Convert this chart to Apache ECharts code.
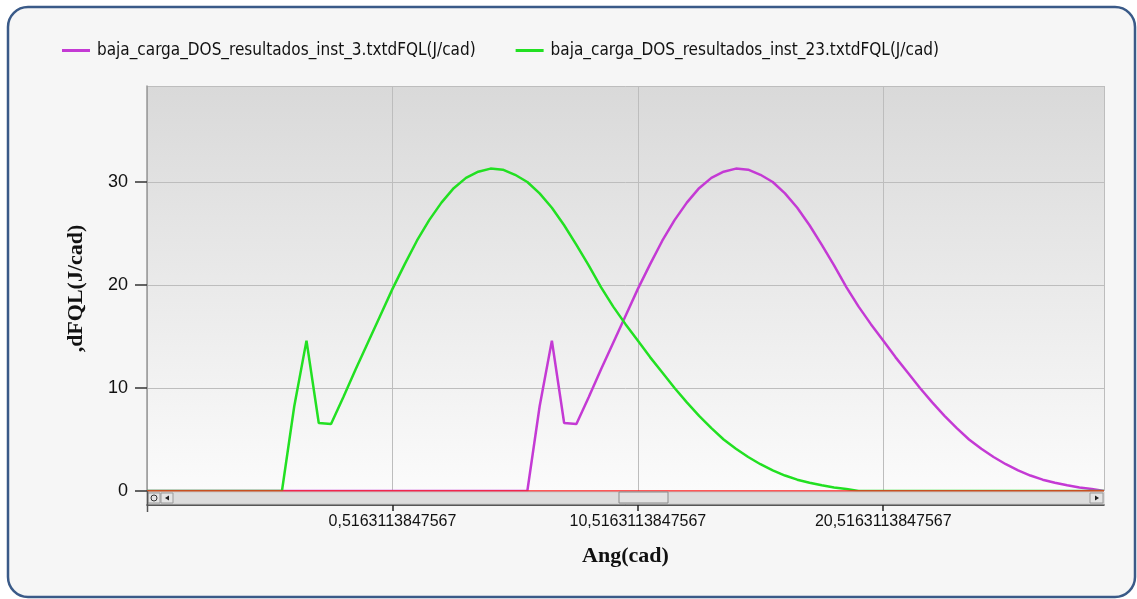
<!DOCTYPE html>
<html>
<head>
<meta charset="utf-8">
<script src="https://cdn.jsdelivr.net/npm/echarts@6/dist/echarts.min.js"></script>
<style>html,body{margin:0;padding:0;background:#fff;}#c{width:1137px;height:599px;}</style>
</head>
<body>
<div id="c"></div>
<script>
// ---- data ----
const seriesNames = ['baja_carga_DOS_resultados_inst_3.txtdFQL(J/cad)', 'baja_carga_DOS_resultados_inst_23.txtdFQL(J/cad)'];
const angleMin = -9.4836886152433;
const angleMax = 29.5163113847567;
const angleStep = 10;
const yTicks = [0, 10, 20, 30];
const yMax = 39.32;

const angleInst3 = [-9.484, 6.016, 6.516, 7.016, 7.516, 8.016, 8.516, 9.016, 9.516, 10.016, 10.516, 11.016, 11.516, 12.016, 12.516, 13.016, 13.516, 14.016, 14.516, 15.016, 15.516, 16.016, 16.516, 17.016, 17.516, 18.016, 18.516, 19.016, 19.516, 20.016, 20.516, 21.016, 21.516, 22.016, 22.516, 23.016, 23.516, 24.016, 24.516, 25.016, 25.516, 26.016, 26.516, 27.016, 27.516, 28.016, 28.516, 29.016, 29.516];
const dfqlInst3 = [0, 0, 8.2, 14.6, 6.6, 6.5, 9.1, 11.8, 14.4, 17.0, 19.6, 22.0, 24.3, 26.3, 28.0, 29.4, 30.4, 31.0, 31.3, 31.2, 30.7, 30.0, 28.9, 27.5, 25.8, 23.9, 21.9, 19.8, 17.9, 16.2, 14.6, 13.0, 11.5, 10.0, 8.6, 7.3, 6.1, 5.0, 4.1, 3.3, 2.6, 2.0, 1.5, 1.1, 0.8, 0.55, 0.35, 0.2, 0];

const angleInst23 = [-9.484, -3.984, -3.484, -2.984, -2.484, -1.984, -1.484, -0.984, -0.484, 0.016, 0.516, 1.016, 1.516, 2.016, 2.516, 3.016, 3.516, 4.016, 4.516, 5.016, 5.516, 6.016, 6.516, 7.016, 7.516, 8.016, 8.516, 9.016, 9.516, 10.016, 10.516, 11.016, 11.516, 12.016, 12.516, 13.016, 13.516, 14.016, 14.516, 15.016, 15.516, 16.016, 16.516, 17.016, 17.516, 18.016, 18.516, 19.016, 19.516, 29.516];
const dfqlInst23 = [0, 0, 8.2, 14.6, 6.6, 6.5, 9.1, 11.8, 14.4, 17.0, 19.6, 22.0, 24.3, 26.3, 28.0, 29.4, 30.4, 31.0, 31.3, 31.2, 30.7, 30.0, 28.9, 27.5, 25.8, 23.9, 21.9, 19.8, 17.9, 16.2, 14.6, 13.0, 11.5, 10.0, 8.6, 7.3, 6.1, 5.0, 4.1, 3.3, 2.6, 2.0, 1.5, 1.1, 0.8, 0.55, 0.35, 0.2, 0, 0];

const zip = (a, b) => a.map((v, i) => [v, b[i]]);

// ---- layout ----
const G = {left: 147, top: 86, width: 957, height: 405};
const gBottom = G.top + G.height;  // 491
const gRight = G.left + G.width;   // 1104

const chart = echarts.init(document.getElementById('c'), null, {renderer: 'canvas'});

const sbY = gBottom + 1, sbH = 12;
const graphics = [
  {type: 'rect', z: -10, shape: {x: 8, y: 7, width: 1127, height: 590, r: 20},
   style: {fill: '#f6f6f6', stroke: '#3a5a88', lineWidth: 2.5}},
  // scrollbar
  {type: 'rect', z: 10, shape: {x: G.left, y: sbY, width: G.width, height: sbH},
   style: {fill: '#dcdcdc', stroke: '#c8c8c8', lineWidth: 1}},
  {type: 'rect', z: 11, shape: {x: G.left + 1, y: sbY + 1, width: 12, height: sbH - 2},
   style: {fill: '#e4e4e4', stroke: '#9a9a9a', lineWidth: 1}},
  {type: 'circle', z: 12, shape: {cx: G.left + 7, cy: sbY + 6, r: 3},
   style: {fill: 'none', stroke: '#333', lineWidth: 1}},
  {type: 'rect', z: 11, shape: {x: G.left + 14, y: sbY + 1, width: 12, height: sbH - 2},
   style: {fill: '#e4e4e4', stroke: '#9a9a9a', lineWidth: 1}},
  {type: 'polygon', z: 12, shape: {points: [[G.left + 18, sbY + 6], [G.left + 22, sbY + 3.5], [G.left + 22, sbY + 8.5]]},
   style: {fill: '#222'}},
  {type: 'rect', z: 11, shape: {x: gRight - 14, y: sbY + 1, width: 13, height: sbH - 2},
   style: {fill: '#e4e4e4', stroke: '#9a9a9a', lineWidth: 1}},
  {type: 'polygon', z: 12, shape: {points: [[gRight - 5, sbY + 6], [gRight - 9, sbY + 3.5], [gRight - 9, sbY + 8.5]]},
   style: {fill: '#222'}},
  {type: 'rect', z: 11, shape: {x: 619, y: sbY, width: 49, height: sbH - 1},
   style: {fill: '#e2e2e2', stroke: '#8a8a8a', lineWidth: 1}},
  // y axis line extension below plot
  {type: 'line', z: 12, shape: {x1: G.left + 0.5, y1: gBottom, x2: G.left + 0.5, y2: gBottom + 21},
   style: {stroke: '#555', lineWidth: 1.5}}
];

const option = {
  backgroundColor: '#ffffff',
  animation: false,
  color: ['#c43ad4', '#22e022'],
  legend: {
    left: 57, top: 37,
    itemWidth: 28, itemHeight: 3, itemGap: 40,
    icon: 'rect',
    textStyle: {fontFamily: 'DejaVu Sans Condensed', fontSize: 17, color: '#111', padding: [0, 0, 0, 2]},
    data: seriesNames
  },
  grid: {
    left: G.left, top: G.top, width: G.width, height: G.height,
    show: true, borderWidth: 0,
    backgroundColor: {type: 'linear', x: 0, y: 0, x2: 0, y2: 1,
      colorStops: [{offset: 0, color: '#d9d9d9'}, {offset: 1, color: '#fbfbfb'}]}
  },
  xAxis: {
    type: 'value', min: angleMin, max: angleMax, interval: angleStep,
    offset: 14,
    name: 'Ang(cad)', nameLocation: 'middle', nameGap: 40,
    nameTextStyle: {fontFamily: 'Liberation Serif', fontWeight: 'bold', fontSize: 22, color: '#111'},
    axisLine: {show: true, onZero: false, lineStyle: {color: '#222', width: 1.5}},
    axisTick: {show: true, length: 6, lineStyle: {color: '#222', width: 1.5}},
    axisLabel: {
      margin: 9, showMinLabel: false, showMaxLabel: false,
      fontFamily: 'Liberation Sans', fontSize: 16, color: '#111',
      formatter: v => {
        const k = Math.round((v - angleMin) / angleStep);
        return (angleMin + angleStep * k).toFixed(13).replace('.', ',');
      }
    },
    splitLine: {show: true, lineStyle: {color: '#bdbdbd', width: 1}}
  },
  yAxis: {
    type: 'value', min: yTicks[0], max: yMax, interval: yTicks[1] - yTicks[0],
    name: ',dFQL(J/cad)', nameLocation: 'middle', nameGap: 60, nameRotate: 90,
    nameTextStyle: {fontFamily: 'Liberation Serif', fontWeight: 'bold', fontSize: 22, color: '#111'},
    axisLine: {show: true, onZero: false, lineStyle: {color: '#999', width: 1.5}},
    axisTick: {show: true, length: 12, lineStyle: {color: '#333', width: 1.5}},
    axisLabel: {
      margin: 19, showMaxLabel: false,
      fontFamily: 'Liberation Sans', fontSize: 18, color: '#111'
    },
    splitLine: {show: true, lineStyle: {color: '#bdbdbd', width: 1}}
  },
  graphic: graphics,
  series: [
    {
      name: seriesNames[0], type: 'line', data: zip(angleInst3, dfqlInst3),
      showSymbol: false, lineStyle: {width: 2.5}, z: 3
    },
    {
      name: seriesNames[1], type: 'line', data: zip(angleInst23, dfqlInst23),
      showSymbol: false, lineStyle: {width: 2.5}, z: 4,
      markLine: {
        silent: true, symbol: 'none', label: {show: false},
        lineStyle: {color: '#ff2020', width: 1.5, type: 'solid'},
        data: [{yAxis: 0}, {xAxis: angleMax}]
      }
    }
  ]
};
chart.setOption(option);
</script>
</body>
</html>
